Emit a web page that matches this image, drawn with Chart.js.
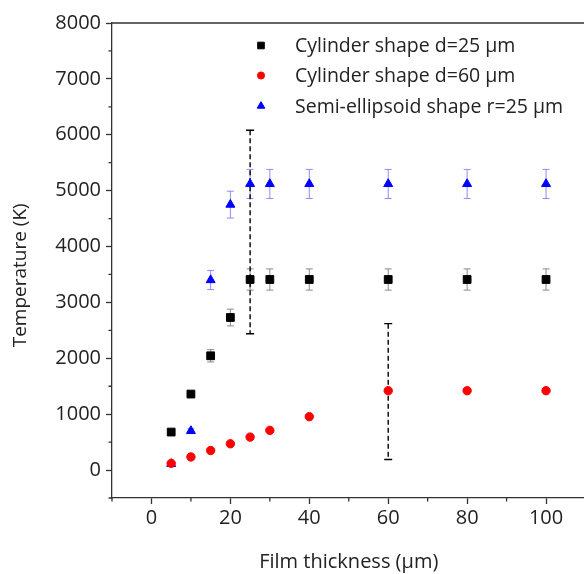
<!DOCTYPE html>
<html>
<head>
<meta charset="utf-8">
<script src="https://cdn.jsdelivr.net/npm/chart.js@4"></script>
<style>
  html, body { margin: 0; padding: 0; background: #fff; overflow: hidden; }
  #wrap { width: 592px; height: 574px; }
</style>
</head>
<body>
<div id="wrap"><canvas id="chart" width="592" height="574"></canvas></div>
<script>
/*
    DATA
*/
const thickness = [5, 10, 15, 20, 25, 30, 40, 60, 80, 100];
const cyl25 = [680, 1360, 2045, 2730, 3410, 3410, 3410, 3410, 3410, 3410];
const cyl25Err = [0, 45, 110, 150, 190, 190, 190, 190, 190, 190];
const cyl60 = [120, 235, 350, 470, 590, 710, 955, 1420, 1420, 1420];
const ellipsoid = [110, 700, 3400, 4750, 5120, 5120, 5120, 5120, 5120, 5120];
const ellipsoidErr = [0, 40, 170, 240, 260, 260, 260, 260, 260, 260];
const seriesNames = ['Cylinder shape d=25 \u00b5m', 'Cylinder shape d=60 \u00b5m', 'Semi-ellipsoid shape r=25 \u00b5m'];
// dashed ranges
const rangeX = [25, 60];
const rangeLow = [2440, 190];
const rangeHigh = [6080, 2620];

const FONT = "'Open Sans', sans-serif";
const INK = '#222';
const AXIS = '#333';

const toPoints = (ys) => thickness.map((x, i) => ({ x, y: ys[i] }));

/*
    PLUGINS
*/
const errorBars = {
  id: 'errorBars',
  beforeDatasetsDraw(chart) {
    const { ctx, scales: { x, y } } = chart;
    chart.data.datasets.forEach((ds) => {
      if (!ds.errors) return;
      ctx.save();
      ctx.strokeStyle = ds.errorColor;
      ctx.lineWidth = 1;
      ds.data.forEach((p, i) => {
        const e = ds.errors[i];
        if (!e) return;
        const px = x.getPixelForValue(p.x);
        const top = y.getPixelForValue(p.y + e);
        const bot = y.getPixelForValue(p.y - e);
        ctx.beginPath();
        ctx.moveTo(px, top); ctx.lineTo(px, bot);
        ctx.moveTo(px - 3.5, top); ctx.lineTo(px + 3.5, top);
        ctx.moveTo(px - 3.5, bot); ctx.lineTo(px + 3.5, bot);
        ctx.stroke();
      });
      ctx.restore();
    });
  }
};

const frameAndMinor = {
  id: 'frameAndMinor',
  afterDraw(chart) {
    const { ctx, chartArea: a, scales: { x, y } } = chart;
    ctx.save();
    ctx.strokeStyle = AXIS;
    ctx.lineWidth = 1.3;
    ctx.beginPath();
    ctx.moveTo(a.left, a.top); ctx.lineTo(a.right, a.top); ctx.lineTo(a.right, a.bottom);
    // minor ticks
    x.ticks.forEach((t) => {
      if (t.value % 20 === 0) return;
      const px = x.getPixelForValue(t.value);
      ctx.moveTo(px, a.bottom); ctx.lineTo(px, a.bottom + 3.5);
    });
    y.ticks.forEach((t) => {
      if (t.value % 1000 === 0) return;
      const py = y.getPixelForValue(t.value);
      ctx.moveTo(a.left, py); ctx.lineTo(a.left - 3.5, py);
    });
    ctx.stroke();
    ctx.restore();
  }
};

const insideLegend = {
  id: 'insideLegend',
  afterDraw(chart) {
    const { ctx } = chart;
    const rows = [45.5, 75.5, 106];
    ctx.save();
    chart.data.datasets.slice(0, 3).forEach((ds, i) => {
      ctx.fillStyle = ds.backgroundColor;
      ctx.strokeStyle = ds.borderColor;
      ctx.lineWidth = 1;
      Chart.helpers.drawPoint(ctx, {
        pointStyle: ds.pointStyle,
        radius: ds.pointRadius * 0.85,
        borderWidth: 1
      }, 261, rows[i]);
      ctx.fillStyle = INK;
      ctx.font = `19.5px ${FONT}`;
      ctx.textBaseline = 'middle';
      ctx.textAlign = 'left';
      ctx.fillText(seriesNames[i], 295, rows[i] + 1);
    });
    ctx.restore();
  }
};

/*
    DATASETS
*/
const rangeSets = rangeX.map((rx, i) => ({
  label: 'range ' + rx,
  data: [{ x: rx, y: rangeHigh[i] }, { x: rx, y: rangeLow[i] }],
  showLine: true,
  borderColor: '#000',
  borderWidth: 1.4,
  borderDash: [5, 3],
  pointStyle: 'line',
  pointRadius: 4,
  pointBorderColor: '#000',
  pointBorderWidth: 1.4
}));

const datasets = [
  {
    label: seriesNames[0],
    data: toPoints(cyl25),
    errors: cyl25Err,
    errorColor: '#8a8a8a',
    pointStyle: 'rect',
    pointRadius: 5.5,
    backgroundColor: '#000',
    borderColor: '#000',
    borderWidth: 1
  },
  {
    label: seriesNames[1],
    data: toPoints(cyl60),
    pointStyle: 'circle',
    pointRadius: 4.2,
    backgroundColor: '#ff0000',
    borderColor: '#ff0000',
    borderWidth: 1
  },
  {
    label: seriesNames[2],
    data: toPoints(ellipsoid),
    errors: ellipsoidErr,
    errorColor: '#8c8cff',
    pointStyle: 'triangle',
    pointRadius: 5.2,
    backgroundColor: '#0000ff',
    borderColor: '#0000ff',
    borderWidth: 1
  },
  ...rangeSets
];

/*
    CHART
*/
new Chart(document.getElementById('chart').getContext('2d'), {
  type: 'scatter',
  data: { datasets },
  plugins: [errorBars, frameAndMinor, insideLegend],
  options: {
    responsive: false,
    animation: false,
    devicePixelRatio: 1,
    layout: { padding: { top: 23, right: 3, left: 0, bottom: 0 } },
    plugins: { legend: { display: false }, tooltip: { enabled: false } },
    scales: {
      x: {
        type: 'linear',
        min: -10,
        max: 110,
        afterFit: (s) => { s.height = 76; },
        ticks: {
          stepSize: 10,
          autoSkip: false,
          maxRotation: 0,
          padding: 2,
          color: INK,
          font: { family: FONT, size: 20 },
          callback: (v) => (v % 20 === 0 && v >= 0 && v <= 100 ? v : '')
        },
        grid: {
          drawOnChartArea: false,
          tickLength: 6,
          tickWidth: 1.3,
          tickColor: (c) => (c.tick && c.tick.value % 20 === 0 ? AXIS : 'rgba(0,0,0,0)')
        },
        border: { color: AXIS, width: 1.3 },
        title: {
          display: true,
          text: 'Film thickness (\u00b5m)',
          color: INK,
          font: { family: FONT, size: 20 },
          padding: { top: 0, bottom: 0 }
        }
      },
      y: {
        min: -500,
        max: 8000,
        afterFit: (s) => { s.width = 112; },
        ticks: {
          stepSize: 500,
          autoSkip: false,
          padding: 5,
          color: INK,
          font: { family: FONT, size: 20 },
          callback: (v) => (v % 1000 === 0 && v >= 0 ? v : '')
        },
        grid: {
          drawOnChartArea: false,
          tickLength: 6,
          tickWidth: 1.3,
          tickColor: (c) => (c.tick && c.tick.value % 1000 === 0 ? AXIS : 'rgba(0,0,0,0)')
        },
        border: { color: AXIS, width: 1.3 },
        title: {
          display: true,
          text: 'Temperature (K)      ',
          color: INK,
          font: { family: FONT, size: 19 },
          padding: { top: 9, bottom: 0 }
        }
      }
    }
  }
});
</script>
</body>
</html>
